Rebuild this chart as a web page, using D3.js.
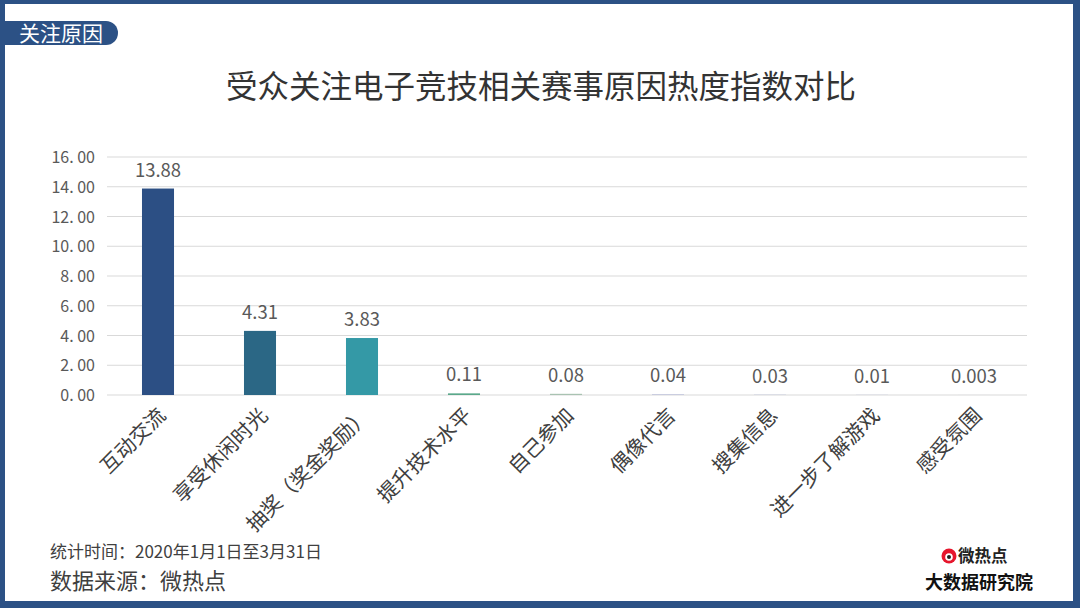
<!DOCTYPE html>
<html><head><meta charset="utf-8">
<script src="https://cdn.jsdelivr.net/npm/d3@7"></script>
<style>html,body{margin:0;padding:0;background:#fff;}svg{display:block;}</style>
</head><body>
<script>
const categories = ["互动交流","享受休闲时光","抽奖（奖金奖励）","提升技术水平","自己参加","偶像代言","搜集信息","进一步了解游戏","感受氛围"];
const values = [13.88, 4.31, 3.83, 0.11, 0.08, 0.04, 0.03, 0.01, 0.003];
const labels = ["13.88","4.31","3.83","0.11","0.08","0.04","0.03","0.01","0.003"];
const barColors = ["#2c4f84","#2b6785","#3499a6","#5aa88a","#a9c3b2","#b3b9d9","#c9cde0","#b3b9d9","#c9cde0"];
const yTicks = [0,2,4,6,8,10,12,14,16];
const yTickLabels = ["0. 00","2. 00","4. 00","6. 00","8. 00","10. 00","12. 00","14. 00","16. 00"];

const W = 1080, H = 608;
const font = "'Noto Sans CJK SC','Noto Sans',sans-serif";
const svg = d3.select("body").append("svg").attr("width", W).attr("height", H);
const blue = "#2c5185";

// frame
svg.append("rect").attr("x",0).attr("y",0).attr("width",W).attr("height",H).attr("fill",blue);
svg.append("rect").attr("x",5).attr("y",4).attr("width",1068).attr("height",597).attr("fill","#fff");

// badge
svg.append("path").attr("fill",blue)
  .attr("d","M5,21 H106 A12,12 0 0 1 106,45 H5 Z");
svg.append("text").attr("x",19).attr("y",40.5).attr("fill","#fff")
  .attr("font-family",font).attr("font-size",21).text("关注原因");

// title
svg.append("text").attr("x",541).attr("y",98).attr("text-anchor","middle")
  .attr("font-family",font).attr("font-size",31.5).attr("fill","#333").text("受众关注电子竞技相关赛事原因热度指数对比");

const x = d3.scaleBand().domain(categories).range([107,1025]).paddingInner(0.686).paddingOuter(0.343);
const y = d3.scaleLinear().domain([0,16]).range([395,157]);

// grid
svg.append("g").selectAll("line").data(yTicks).join("line")
  .attr("x1",107).attr("x2",1027).attr("y1",d=>y(d)).attr("y2",d=>y(d))
  .attr("stroke","#d9d9d9").attr("stroke-width",1.2);

// y axis labels
const yAxis = d3.axisLeft(y).tickValues(yTicks).tickSize(0).tickPadding(0)
  .tickFormat((d,i)=>yTickLabels[i]);
const ga = svg.append("g").attr("transform","translate(95,0)").call(yAxis);
ga.select(".domain").remove();
ga.selectAll("text").attr("font-family",font).attr("font-size",16).attr("fill","#595959").attr("dy","0.35em");

// bars
svg.append("g").selectAll("rect").data(values).join("rect")
  .attr("x",(d,i)=>x(categories[i])).attr("width",x.bandwidth())
  .attr("y",d=>y(d)).attr("height",d=>y(0)-y(d))
  .attr("fill",(d,i)=>barColors[i]);

// value labels
svg.append("g").selectAll("text").data(values).join("text")
  .attr("x",(d,i)=>x(categories[i])+x.bandwidth()/2)
  .attr("y",d=>y(d)-12).attr("text-anchor","middle")
  .attr("font-family",font).attr("font-size",18.5).attr("fill","#595959")
  .text((d,i)=>labels[i]);

// category labels
svg.append("g").selectAll("text").data(categories).join("text")
  .attr("transform",d=>`translate(${x(d)+x.bandwidth()/2-2},${406}) rotate(-45)`)
  .attr("text-anchor","end").attr("dy","0.75em")
  .attr("font-family",font).attr("font-size",20.5).attr("fill","#404040")
  .text(d=>d);

// footer
svg.append("text").attr("x",50).attr("y",558).attr("font-family",font).attr("font-size",17).attr("fill","#404040")
  .text("统计时间：2020年1月1日至3月31日");
svg.append("text").attr("x",50).attr("y",589).attr("font-family",font).attr("font-size",22).attr("fill","#404040")
  .text("数据来源：微热点");

// logo
const lg = svg.append("g");
lg.append("circle").attr("cx",949).attr("cy",556).attr("r",7.5).attr("fill","#e6162d");
lg.append("circle").attr("cx",949).attr("cy",557).attr("r",3.8).attr("fill","#fff");
lg.append("circle").attr("cx",949).attr("cy",557).attr("r",2).attr("fill","#222");
lg.append("text").attr("x",958).attr("y",562).attr("font-family",font).attr("font-weight","bold")
  .attr("font-size",16.5).attr("fill","#222").text("微热点");
lg.append("text").attr("x",925).attr("y",588.5).attr("font-family",font).attr("font-weight","bold")
  .attr("font-size",18).attr("fill","#111").text("大数据研究院");
</script>
</body></html>
